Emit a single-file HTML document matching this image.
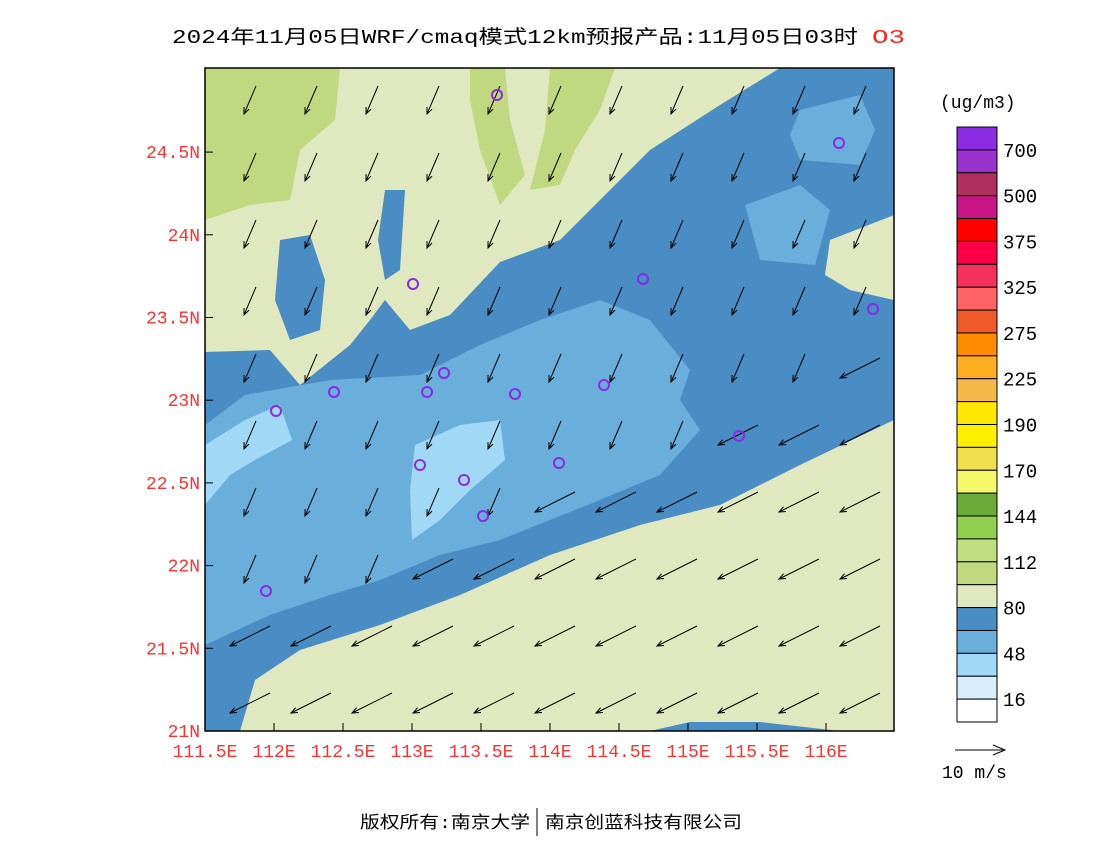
<!DOCTYPE html>
<html><head><meta charset="utf-8"><style>
body{margin:0;background:#fff;width:1100px;height:850px;overflow:hidden}
svg{display:block}
text{font-family:"Liberation Mono","Noto Sans CJK SC",monospace}
</style></head><body>
<svg id="s" width="1100" height="850" xmlns="http://www.w3.org/2000/svg">
<text x="172" y="43" font-size="19" fill="#000" textLength="686" lengthAdjust="spacingAndGlyphs">2024年11月05日WRF/cmaq模式12km预报产品:11月05日03时</text>
<text x="872" y="43" font-size="19" fill="#ff2020" textLength="33" lengthAdjust="spacingAndGlyphs">O3</text>
<defs><clipPath id="c"><rect x="205" y="68" width="689" height="663"/></clipPath></defs>
<g clip-path="url(#c)">
<rect x="205" y="68" width="689" height="663" fill="#4a8cc4"/>
<path d="M205,68 L780,68 L720,105 L650,150 L600,200 L560,240 L500,262 L450,315 L410,330 L385,300 L370,320 L350,345 L300,385 L270,350 L205,352 Z" fill="#e0e8c0"/>
<path d="M280,240 L310,235 L325,280 L320,330 L290,340 L275,300 Z" fill="#4a8cc4"/>
<path d="M385,190 L405,190 L400,270 L385,280 L378,240 Z" fill="#4a8cc4"/>
<path d="M830,240 L894,215 L894,300 L850,290 L825,275 Z" fill="#e0e8c0"/>
<path d="M205,68 L340,68 L335,120 L300,150 L290,200 L250,205 L205,220 Z" fill="#c0d880"/>
<path d="M470,68 L505,68 L510,120 L525,175 L500,205 L480,150 L470,100 Z" fill="#c0d880"/>
<path d="M550,68 L615,68 L600,110 L575,150 L560,185 L530,190 L545,130 Z" fill="#c0d880"/>
<path d="M240,731 L255,680 L300,650 L380,625 L460,595 L550,555 L640,525 L720,505 L800,465 L894,420 L894,731 Z" fill="#e0e8c0"/>
<path d="M650,731 L690,722 L760,722 L840,731 Z" fill="#4a8cc4"/>
<path d="M205,425 L245,395 L330,380 L420,375 L480,345 L540,320 L600,300 L650,320 L690,370 L680,400 L700,430 L660,475 L600,500 L500,540 L440,555 L380,580 L330,595 L270,615 L205,645 Z" fill="#6aaedc"/>
<path d="M800,110 L860,95 L875,130 L860,165 L800,160 L790,135 Z" fill="#6aaedc"/>
<path d="M745,205 L800,185 L830,210 L815,265 L760,260 Z" fill="#6aaedc"/>
<path d="M205,445 L245,420 L280,405 L292,440 L255,460 L230,475 L205,505 Z" fill="#a0d8f5"/>
<path d="M415,445 L460,425 L500,420 L505,460 L470,490 L440,520 L412,540 L410,490 Z" fill="#a0d8f5"/>
<g id="arrows" stroke="#000" stroke-width="1" fill="none"></g>
<g fill="none" stroke="#8a2be2" stroke-width="2">
<circle cx="497" cy="95" r="5"/><circle cx="839" cy="143" r="5"/><circle cx="643" cy="279" r="5"/><circle cx="413" cy="284" r="5"/><circle cx="873" cy="309" r="5"/><circle cx="444" cy="373" r="5"/><circle cx="334" cy="392" r="5"/><circle cx="427" cy="392" r="5"/><circle cx="515" cy="394" r="5"/><circle cx="604" cy="385" r="5"/><circle cx="276" cy="411" r="5"/><circle cx="739" cy="436" r="5"/><circle cx="420" cy="465" r="5"/><circle cx="559" cy="463" r="5"/><circle cx="464" cy="480" r="5"/><circle cx="483" cy="516" r="5"/><circle cx="266" cy="591" r="5"/>
</g>
</g>
<rect x="205" y="68" width="689" height="663" fill="none" stroke="#000" stroke-width="1.5"/>
<g id="ticks" stroke="#000"></g>
<g id="lbl" font-size="18" fill="#ff3030"></g>
<g id="cb"></g>
<text x="940" y="108" font-size="18">(ug/m3)</text>
<line x1="955" y1="750" x2="1003" y2="750" stroke="#000"/><path d="M993,745 L1005,750 L993,755" fill="none" stroke="#000"/>
<text x="942" y="778" font-size="18">10 m/s</text>
<text x="360" y="828" font-size="17" textLength="170" lengthAdjust="spacingAndGlyphs">版权所有:南京大学</text>
<line x1="537" y1="808" x2="537" y2="836" stroke="#000"/>
<text x="545" y="828" font-size="17" textLength="197" lengthAdjust="spacingAndGlyphs">南京创蓝科技有限公司</text>
</svg>
<script>
var ns="http://www.w3.org/2000/svg";
function el(p,t,a,txt){var e=document.createElementNS(ns,t);for(var k in a)e.setAttribute(k,a[k]);if(txt)e.textContent=txt;document.getElementById(p).appendChild(e);}
var lon=["111.5E","112E","112.5E","113E","113.5E","114E","114.5E","115E","115.5E","116E"];
for(var i=0;i<10;i++){var x=205+69*i;el("ticks","line",{x1:x,y1:731,x2:x,y2:723});el("lbl","text",{x:x,y:757,"text-anchor":"middle"},lon[i]);}
var lat=["21N","21.5N","22N","22.5N","23N","23.5N","24N","24.5N"];
for(var j=0;j<8;j++){var y=731-82.7*j;el("ticks","line",{x1:205,y1:y,x2:213,y2:y});el("lbl","text",{x:200,y:y+6,"text-anchor":"end"},lat[j]);}
var cols=["#8b2be2","#9932cc","#b03060","#c71585","#ff0000","#ff0048","#f5305a","#ff6464","#f05a2a","#ff8c00","#ffae20","#f5b84a","#ffe800","#fff000","#f0e050","#f5f868","#6aaa38","#90cf50","#c0df80","#c0d880","#e0e8c0","#4a8cc4","#6aaedc","#a0d8f5","#d8eefa","#ffffff"];
var h=595/26;
for(var k=0;k<26;k++)el("cb","rect",{x:957,y:127+k*h,width:40,height:h,fill:cols[k],stroke:"#000","stroke-width":1});
var labs=["700","500","375","325","275","225","190","170","144","112","80","48","16"];
for(var k=0;k<13;k++)el("cb","text",{x:1003,y:127+(2*k+1)*h+7,"font-size":"19"},labs[k]);
for(var r=0;r<10;r++)for(var c=0;c<11;c++){
 var x=250+61*c, y=100+67*r;
 var dx,dy;
 var low = (y-731) > -(x-205)*0.45-80;
 if(low){dx=-40;dy=20;}else{dx=-12;dy=28;}
 var x2=x+dx/2,y2=y+dy/2,x1=x-dx/2,y1=y-dy/2;
 el("arrows","line",{x1:x1,y1:y1,x2:x2,y2:y2});
 var a=Math.atan2(dy,dx);
 el("arrows","path",{d:"M"+(x2-7*Math.cos(a-0.4))+","+(y2-7*Math.sin(a-0.4))+" L"+x2+","+y2+" L"+(x2-7*Math.cos(a+0.4))+","+(y2-7*Math.sin(a+0.4))});
}
</script>
</body></html>
